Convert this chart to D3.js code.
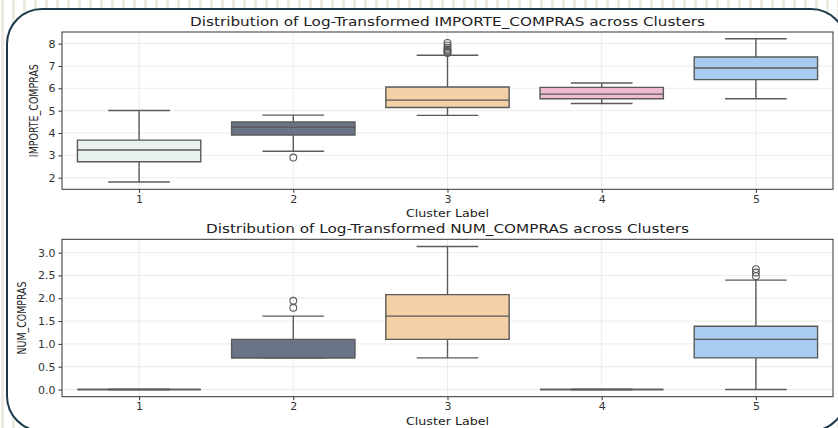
<!DOCTYPE html>
<html lang="en">
<head>
    <meta charset="UTF-8">
    <title>Log-Transformed Boxplots</title>
    <script src="https://d3js.org/d3.v7.min.js"></script>
    <style>
        body { margin: 0; background: #fff; }
        text { font-family: "DejaVu Sans", sans-serif; }
    </style>
</head>
<body>
    <div id="chart"></div>

    <script>
        // categories
        const clusters = ["1", "2", "3", "4", "5"];
        const boxColors = ["#e8f1ee", "#6b7486", "#f5cfa6", "#eebbd3", "#a8cbf0"];

        // IMPORTE_COMPRAS (log) box stats per cluster
        const impLo = [1.81, 3.18, 4.79, 5.32, 5.53];
        const impQ1 = [2.71, 3.91, 5.14, 5.53, 6.39];
        const impMed = [3.24, 4.26, 5.47, 5.74, 6.91];
        const impQ3 = [3.68, 4.49, 6.06, 6.04, 7.40];
        const impHi = [5.01, 4.80, 7.48, 6.24, 8.22];
        const impOut = [[], [2.90], [7.58, 7.63, 7.68, 7.74, 7.82, 7.92, 8.03], [], []];
        const impTicks = [2, 3, 4, 5, 6, 7, 8];

        // NUM_COMPRAS (log) box stats per cluster
        const numLo = [0, 0.693, 0.693, 0, 0];
        const numQ1 = [0, 0.693, 1.099, 0, 0.693];
        const numMed = [0, 0.693, 1.609, 0, 1.099];
        const numQ3 = [0, 1.099, 2.079, 0, 1.386];
        const numHi = [0, 1.609, 3.135, 0, 2.398];
        const numOut = [[], [1.792, 1.946], [], [], [2.485, 2.565, 2.639]];
        const numTicks = [0, 0.5, 1.0, 1.5, 2.0, 2.5, 3.0];

        const W = 838, H = 428;
        const svg = d3.select("#chart").append("svg")
            .attr("width", W).attr("height", H);

        // striped backdrop
        const defs = svg.append("defs");
        const pat = defs.append("pattern")
            .attr("id", "stripes").attr("patternUnits", "userSpaceOnUse")
            .attr("width", 11).attr("height", 11);
        pat.append("rect").attr("width", 11).attr("height", 11).attr("fill", "#ffffff");
        pat.append("rect").attr("x", 1).attr("width", 3).attr("height", 11).attr("fill", "#eeeae2");
        svg.append("rect").attr("width", W).attr("height", H).attr("fill", "url(#stripes)");

        svg.append("rect")
            .attr("x", 7).attr("y", 9).attr("width", 839).attr("height", 422)
            .attr("rx", 35).attr("ry", 35)
            .attr("fill", "#fff").attr("stroke", "#1d3a4b").attr("stroke-width", 2);

        const lineCol = "#5a5a5a";

        function panel(cfg) {
            const x = d3.scalePoint().domain(clusters).range([62, 833]).padding(0.5);
            const y = d3.scaleLinear().domain(cfg.domain).range([cfg.bottom, cfg.top]);
            const step = x.step();
            const bw = step * 0.8;
            const g = svg.append("g");

            // grid
            g.selectAll(".vg").data(clusters).enter().append("line")
                .attr("x1", d => x(d)).attr("x2", d => x(d))
                .attr("y1", cfg.top).attr("y2", cfg.bottom)
                .attr("stroke", "#e6e6e6").attr("stroke-width", 0.8);
            g.selectAll(".hg").data(cfg.ticks).enter().append("line")
                .attr("x1", 62).attr("x2", 833)
                .attr("y1", d => y(d)).attr("y2", d => y(d))
                .attr("stroke", "#e6e6e6").attr("stroke-width", 0.8);

            // boxes
            clusters.forEach((c, i) => {
                const cx = x(c);
                const x0 = cx - bw / 2, x1 = cx + bw / 2;
                const cap = bw / 4;
                const lines = [
                    [cx, y(cfg.q3[i]), cx, y(cfg.hi[i])],
                    [cx, y(cfg.q1[i]), cx, y(cfg.lo[i])],
                    [cx - cap, y(cfg.hi[i]), cx + cap, y(cfg.hi[i])],
                    [cx - cap, y(cfg.lo[i]), cx + cap, y(cfg.lo[i])]
                ];
                g.selectAll(null).data(lines).enter().append("line")
                    .attr("x1", d => d[0]).attr("y1", d => d[1])
                    .attr("x2", d => d[2]).attr("y2", d => d[3])
                    .attr("stroke", lineCol).attr("stroke-width", 1.4);
                const yq1 = y(cfg.q1[i]), yq3 = y(cfg.q3[i]);
                g.append("path")
                    .attr("d", `M${x0},${yq3}H${x1}V${yq1}H${x0}Z`)
                    .attr("fill", boxColors[i]).attr("stroke", lineCol).attr("stroke-width", 1.4);
                g.append("line")
                    .attr("x1", x0).attr("x2", x1)
                    .attr("y1", y(cfg.med[i])).attr("y2", y(cfg.med[i]))
                    .attr("stroke", lineCol).attr("stroke-width", 1.4);
                g.selectAll(null).data(cfg.out[i]).enter().append("circle")
                    .attr("cx", cx).attr("cy", d => y(d)).attr("r", 3.4)
                    .attr("fill", "none").attr("stroke", lineCol).attr("stroke-width", 1.1);
            });

            // axes
            const yAxis = d3.axisLeft(y).tickValues(cfg.ticks).tickSize(3.5).tickPadding(3)
                .tickFormat(cfg.fmt);
            const xAxis = d3.axisBottom(x).tickSize(3.5).tickPadding(2.5);
            const ya = g.append("g").attr("transform", "translate(62,0)").call(yAxis);
            const xa = g.append("g").attr("transform", `translate(0,${cfg.bottom})`).call(xAxis);
            [ya, xa].forEach(a => {
                a.select(".domain").remove();
                a.selectAll("line").attr("stroke", "#333");
                a.selectAll("text").attr("fill", "#333").style("font-size", "11px");
            });

            g.append("rect")
                .attr("x", 62).attr("y", cfg.top).attr("width", 771).attr("height", cfg.bottom - cfg.top)
                .attr("fill", "none").attr("stroke", "#333").attr("stroke-width", 1);

            g.append("text")
                .attr("x", cfg.titleX).attr("y", cfg.top - 6)
                .attr("text-anchor", "middle").attr("fill", "#222")
                .attr("textLength", cfg.titleLen).attr("lengthAdjust", "spacingAndGlyphs")
                .style("font-size", "13px").text(cfg.title);
            g.append("text")
                .attr("x", 447.5).attr("y", cfg.bottom + 28)
                .attr("text-anchor", "middle").attr("fill", "#222")
                .attr("textLength", 83).attr("lengthAdjust", "spacingAndGlyphs")
                .style("font-size", "11px").text("Cluster Label");
            g.append("text")
                .attr("transform", `translate(${cfg.labelX},${(cfg.top + cfg.bottom) / 2}) rotate(-90)`)
                .attr("text-anchor", "middle").attr("fill", "#222")
                .attr("textLength", cfg.labelLen).attr("lengthAdjust", "spacingAndGlyphs")
                .style("font-size", "11.5px").text(cfg.ylabel);
        }

        panel({
            top: 32, bottom: 189.3, domain: [1.48, 8.52], ticks: impTicks, fmt: d3.format("d"),
            lo: impLo, q1: impQ1, med: impMed, q3: impQ3, hi: impHi, out: impOut,
            title: "Distribution of Log-Transformed IMPORTE_COMPRAS across Clusters",
            titleX: 447.5, titleLen: 515,
            ylabel: "IMPORTE_COMPRAS", labelLen: 93, labelX: 38
        });
        panel({
            top: 239.3, bottom: 396.7, domain: [-0.157, 3.292], ticks: numTicks, fmt: d3.format(".1f"),
            lo: numLo, q1: numQ1, med: numMed, q3: numQ3, hi: numHi, out: numOut,
            title: "Distribution of Log-Transformed NUM_COMPRAS across Clusters",
            titleX: 447.5, titleLen: 483,
            ylabel: "NUM_COMPRAS", labelLen: 73, labelX: 25.5
        });
    </script>
</body>
</html>
